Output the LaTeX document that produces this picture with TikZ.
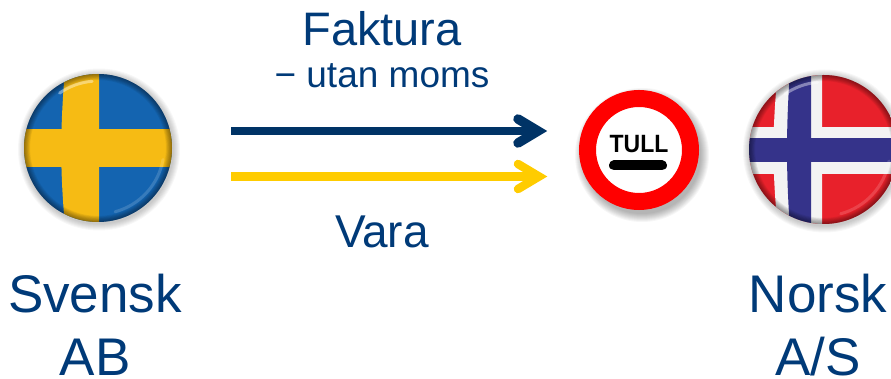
\documentclass[tikz,border=0pt]{standalone}
\usepackage{fontspec}
\setmainfont{Liberation Sans}
\usetikzlibrary{calc}
\definecolor{navyT}{HTML}{003A78}
\definecolor{navyA}{HTML}{003366}
\definecolor{goldA}{HTML}{FFCC00}
\definecolor{seBlue}{HTML}{1464B0}
\definecolor{seGold}{HTML}{F6BB14}
\definecolor{noRed}{HTML}{E8212B}
\definecolor{noBlue}{HTML}{35338A}
\definecolor{noWhite}{HTML}{F3F3F3}
\tikzset{
  x=1pt,y=-1pt,
  bigtext/.style={font=\fontsize{#1}{50}\selectfont,text=navyT,anchor=base,inner sep=0pt},
  subtext/.style={font=\fontsize{37}{40}\selectfont,text=navyT,anchor=base,inner sep=0pt},
  partytext/.style={font=\fontsize{53}{63}\selectfont,text=navyT,anchor=base,inner sep=0pt},
  shaft/.style={line width=#1,line cap=butt},
  barb/.style={line width=#1,line cap=round,line join=miter,miter limit=20},
}
% soft shadow, centre x, centre y, radius
\newcommand{\softshadow}[3]{%
  \foreach \k in {1,...,7}{\fill[black,opacity=.03] (#1+1,#2+1.5) circle[radius=#3+8-\k];}}
% bevel shading of a button, centre x, centre y, radius
\newcommand{\bevel}[3]{%
  \foreach \k in {0,...,7}{\draw[black,opacity=.06,line width=\k*1.6+1] (#1,#2) circle[radius=#3];}
  \draw[white,opacity=.4,line width=3,line cap=round] ($(#1,#2)+(-125:#3-7)$) arc[start angle=125,end angle=95,radius=#3-7,y radius=-#3+7];
  \draw[white,opacity=.15,line width=3,line cap=round] ($(#1,#2)+(10:#3-8)$) arc[start angle=-10,end angle=-75,radius=#3-8,y radius=-#3+8];
}
\begin{document}
\begin{tikzpicture}
\useasboundingbox (0,0) rectangle (891,379);
\fill[white] (0,0) rectangle (891,379);

% Swedish button
\softshadow{98}{148}{74}
\begin{scope}
  \clip (98,148) circle[radius=74];
  \fill[seBlue] (20,70) rectangle (176,226);
  \fill[seGold] (65,70) .. controls (60,130) and (60,170) .. (65,226) -- (99,226) -- (99,70) -- cycle;
  \fill[seGold] (20,129) rectangle (176,167);
  \bevel{98}{148}{74}
\end{scope}

% Customs sign
\foreach \k in {1,...,9}{\fill[black,opacity=.035] (642,155) circle[radius=59+9-\k];}
\node[circle,draw=red,fill=white,line width=17,minimum size=103,inner sep=0pt] (tull) at (639,150) {};
\node[font=\fontsize{25}{25}\selectfont\bfseries,inner sep=0pt,anchor=base] (tulltext) at (639,153) {\scalebox{.92}[1]{TULL}};
\draw[black,line width=10,line cap=round] (614,165.5) -- (662,165.5);

% Norwegian button
\softshadow{823.5}{149.5}{74.5}
\begin{scope}
  \clip (823.5,149.5) circle[radius=74.5];
  \fill[noRed] (745,70) rectangle (900,230);
  \fill[noWhite] (778,70) .. controls (772,130) and (772,170) .. (778,230) -- (822,230) -- (822,70) -- cycle;
  \fill[noWhite] (745,127) rectangle (900,174);
  \fill[noBlue] (790,70) .. controls (786,130) and (786,170) .. (790,230) -- (811,230) -- (811,70) -- cycle;
  \fill[noBlue] (745,138) rectangle (900,162);
  \bevel{823.5}{149.5}{74.5}
\end{scope}

% Labels
\node[bigtext=47] (faktura) at (382,46) {Faktura};
\node[subtext] (moms) at (382,88) {− utan moms};
\node[bigtext=46] (vara) at (382,248) {Vara};
\node[partytext] (svensk) at (95,312) {Svensk};
\node[partytext] (ab) at (95,375) {AB};
\node[partytext] (norsk) at (818,312) {Norsk};
\node[partytext] (as) at (818,375) {A/S};

% Arrows
\coordinate (nstart) at (231,131);
\coordinate (nend) at (538,131);
\coordinate (gstart) at (231,176.5);
\coordinate (gend) at (539,176.5);
\draw[navyA,shaft=8] (nstart) -- (nend);
\draw[navyA,barb=9.5] ($(nend)+(-20,-12)$) -- (nend) -- ($(nend)+(-20,12)$);
\draw[goldA,shaft=8.5] (gstart) -- (gend);
\draw[goldA,barb=8.5] ($(gend)+(-21,-12.5)$) -- (gend) -- ($(gend)+(-21,12.5)$);
\end{tikzpicture}
\end{document}
